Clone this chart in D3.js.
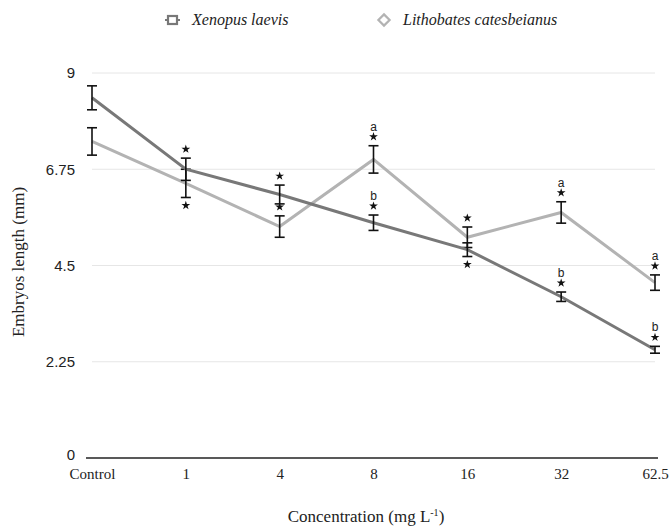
<!DOCTYPE html>
<html lang="en">
<head>
<meta charset="utf-8">
<title>Embryos length by concentration</title>
<script src="https://d3js.org/d3.v7.min.js"></script>
<style>
  body { margin: 0; background: #fff; }
  svg { display: block; }
</style>
</head>
<body>
<svg id="chart" width="671" height="528"></svg>
<script>
// data
var categories = ["Control", "1", "4", "8", "16", "32", "62.5"];
var xenopusMean = [8.42, 6.75, 6.16, 5.50, 4.87, 3.77, 2.53];
var xenopusErr  = [0.28, 0.26, 0.22, 0.18, 0.16, 0.11, 0.08];
var lithoMean   = [7.40, 6.42, 5.41, 6.98, 5.16, 5.74, 4.10];
var lithoErr    = [0.32, 0.33, 0.25, 0.32, 0.24, 0.25, 0.18];
var yTicks = [0, 2.25, 4.5, 6.75, 9];
// significance marks: [category, position, text]
var xenopusMarks = [["1", "above", "*"], ["4", "above", "*"], ["8", "above", "b"], ["16", "below", "*"], ["32", "above", "b"], ["62.5", "above", "b"]];
var lithoMarks   = [["1", "below", "*"], ["4", "above", "*"], ["8", "above", "a"], ["16", "above", "*"], ["32", "above", "a"], ["62.5", "above", "a"]];

var svg = d3.select("#chart");
var plotLeft = 92, plotRight = 655, plotTop = 73, plotBottom = 458;
var serif = "Liberation Serif, Times New Roman, serif";
var sans = "Liberation Sans, Arial, sans-serif";

var x = d3.scalePoint().domain(categories).range([plotLeft, plotRight]);
var y = d3.scaleLinear().domain([0, 9]).range([plotBottom, plotTop]);

var darkCol = "#787878", lightCol = "#b3b3b3";

// gridlines
svg.append("g").selectAll("line")
  .data(yTicks.filter(function(t){ return t > 0; }))
  .enter().append("line")
  .attr("x1", plotLeft).attr("x2", plotRight)
  .attr("y1", function(d){ return y(d); }).attr("y2", function(d){ return y(d); })
  .attr("stroke", "#e6e6e6").attr("stroke-width", 1);

// x axis line
svg.append("line")
  .attr("x1", 86).attr("x2", 658)
  .attr("y1", y(0)).attr("y2", y(0))
  .attr("stroke", "#222").attr("stroke-width", 1.5);

// y tick labels
var yAxis = d3.axisLeft(y).tickValues(yTicks).tickSize(0).tickPadding(0)
  .tickFormat(function(d){ return String(d); });
var gy = svg.append("g").attr("transform", "translate(75,0)").call(yAxis);
gy.select(".domain").remove();
gy.selectAll("text")
  .attr("font-family", sans)
  .attr("font-size", 15).attr("fill", "#222");
// the zero label sits just above "Control"
gy.selectAll(".tick").filter(function(d){ return d === 0; })
  .select("text").attr("dy", "0.1em");

// x tick labels
var xAxis = d3.axisBottom(x).tickSize(0).tickPadding(0);
var gx = svg.append("g").attr("transform", "translate(0," + (plotBottom + 10) + ")").call(xAxis);
gx.select(".domain").remove();
gx.selectAll("text")
  .attr("font-family", serif)
  .attr("font-size", 15).attr("fill", "#222");

// axis titles
svg.append("text")
  .attr("transform", "translate(24,262) rotate(-90)")
  .attr("text-anchor", "middle")
  .attr("font-family", serif)
  .attr("font-size", 17).attr("fill", "#222")
  .text("Embryos length (mm)");

var xt = svg.append("text")
  .attr("x", 366).attr("y", 522)
  .attr("text-anchor", "middle")
  .attr("font-family", serif)
  .attr("font-size", 17).attr("fill", "#222");
xt.append("tspan").text("Concentration (mg L");
xt.append("tspan").attr("dy", -6).attr("font-size", 10).text("-1");
xt.append("tspan").attr("dy", 6).text(")");

function drawStar(cx, cy) {
  svg.append("path")
    .attr("d", d3.symbol().type(d3.symbolStar).size(24)())
    .attr("transform", "translate(" + cx + "," + cy + ")")
    .attr("fill", "#111");
}

function drawSeries(means, errs, col, marks) {
  var pts = categories.map(function(c, i){ return {c: c, m: means[i], e: errs[i]}; });
  var line = d3.line().x(function(d){ return x(d.c); }).y(function(d){ return y(d.m); });
  svg.append("path").datum(pts)
    .attr("d", line).attr("fill", "none")
    .attr("stroke", col).attr("stroke-width", 3);

  var g = svg.append("g").attr("stroke", "#111").attr("stroke-width", 1.6);
  pts.forEach(function(d){
    var cx = x(d.c);
    g.append("line").attr("x1", cx).attr("x2", cx)
      .attr("y1", y(d.m + d.e)).attr("y2", y(d.m - d.e));
    g.append("line").attr("x1", cx - 5).attr("x2", cx + 5)
      .attr("y1", y(d.m + d.e)).attr("y2", y(d.m + d.e));
    g.append("line").attr("x1", cx - 5).attr("x2", cx + 5)
      .attr("y1", y(d.m - d.e)).attr("y2", y(d.m - d.e));
  });

  var lookup = {};
  pts.forEach(function(d){ lookup[d.c] = d; });
  marks.forEach(function(mk){
    var d = lookup[mk[0]], cx = x(mk[0]);
    if (mk[1] === "below") {
      drawStar(cx, y(d.m - d.e) + 8);
    } else {
      var sy = y(d.m + d.e) - 9;
      drawStar(cx, sy);
      if (mk[2] !== "*") {
        svg.append("text").attr("x", cx).attr("y", sy - 6)
          .attr("text-anchor", "middle")
          .attr("font-family", sans)
          .attr("font-size", 12).attr("fill", "#222")
          .text(mk[2]);
      }
    }
  });
}

drawSeries(lithoMean, lithoErr, lightCol, lithoMarks);
drawSeries(xenopusMean, xenopusErr, darkCol, xenopusMarks);

// legend
var leg = svg.append("g");
leg.append("line").attr("x1", 165).attr("x2", 180).attr("y1", 20).attr("y2", 20)
  .attr("stroke", darkCol).attr("stroke-width", 2);
leg.append("rect").attr("x", 168).attr("y", 16).attr("width", 9).attr("height", 8)
  .attr("fill", "#fff").attr("stroke", darkCol).attr("stroke-width", 2.2);
leg.append("text").attr("x", 192).attr("y", 25)
  .attr("font-family", serif)
  .attr("font-style", "italic").attr("font-size", 16).attr("fill", "#222")
  .text("Xenopus laevis");
leg.append("path")
  .attr("d", d3.symbol().type(d3.symbolDiamond2).size(80)())
  .attr("transform", "translate(384,20)")
  .attr("fill", "#fff").attr("stroke", lightCol).attr("stroke-width", 2.2);
leg.append("text").attr("x", 403).attr("y", 25)
  .attr("font-family", serif)
  .attr("font-style", "italic").attr("font-size", 16).attr("fill", "#222")
  .text("Lithobates catesbeianus");
</script>
</body>
</html>
